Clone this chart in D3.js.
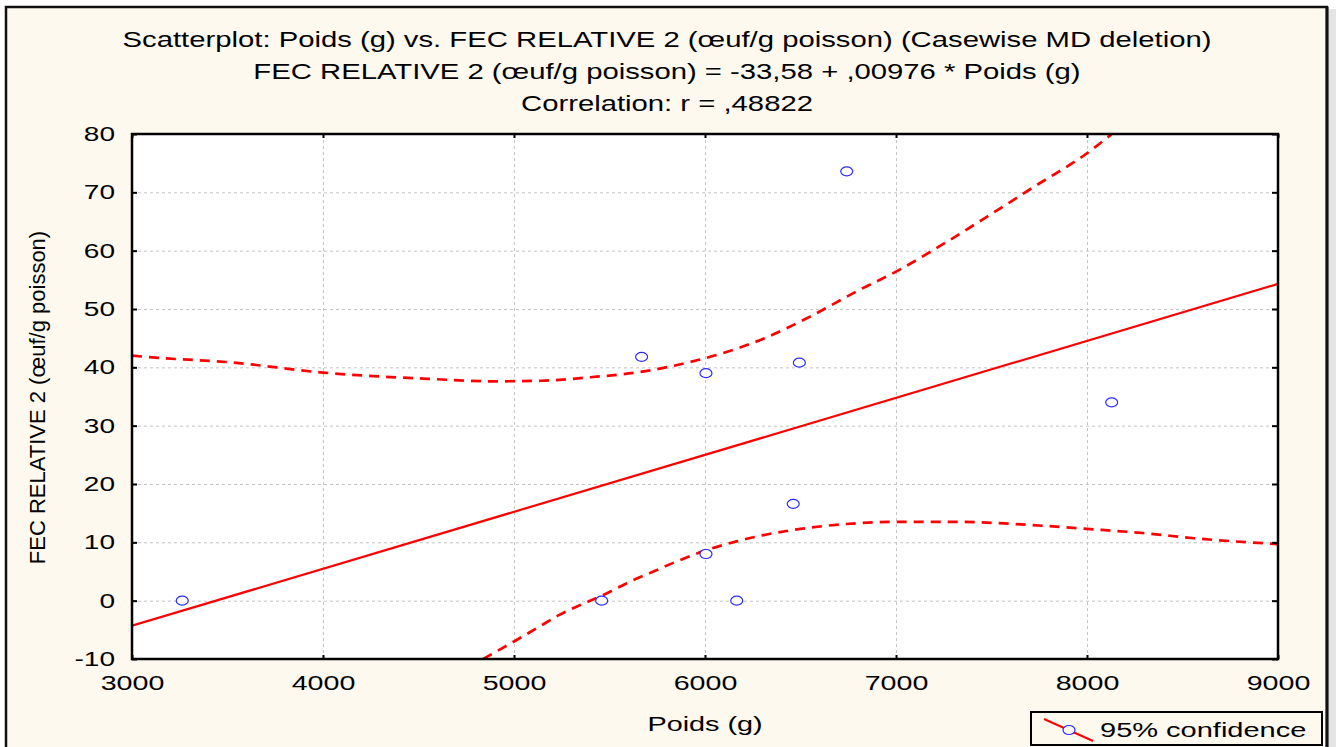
<!DOCTYPE html>
<html>
<head>
<meta charset="utf-8">
<script src="https://cdn.jsdelivr.net/npm/d3@7"></script>
<style>
  body { margin: 0; background: #ffffff; }
  svg text { font-family: "Liberation Sans", Arial, sans-serif; fill: #000; }
</style>
</head>
<body>
<svg id="chart" width="1336" height="747"></svg>
<script>
// scatter points
const poids = [3263, 5459, 5668, 6005, 6005, 6166, 6462, 6494, 6742, 8129]
const fec   = [0, 0, 41.8, 39.0, 8.0, 0, 16.6, 40.8, 73.6, 34.0]

// fitted line, end points
const fitLine = [[3000, -4.3], [9000, 54.3]]

// 95% confidence band, upper and lower curves
const upperBand = [[3000, 42.0], [3150, 41.6], [3500, 40.9], [4000, 39.1], [4570, 38.0], [4880, 37.6],
  [5140, 37.7], [5400, 38.3], [5660, 39.2], [5920, 40.9], [6100, 42.5], [6290, 44.7], [6550, 48.7],
  [6810, 53.3], [7000, 56.4], [7250, 61.2], [7490, 66.1], [7720, 70.9], [8000, 76.7], [8130, 80.0]]
const lowerBand = [[4838, -10], [5000, -7.0], [5120, -4.7], [5240, -2.4], [5350, -0.7], [5470, 1.0],
  [5590, 3.0], [5730, 5.0], [5850, 6.7], [6010, 8.7], [6170, 10.2], [6300, 11.2], [6500, 12.3],
  [6720, 13.1], [7000, 13.5], [7330, 13.5], [7690, 13.0], [8000, 12.3], [8290, 11.6], [8560, 10.7],
  [9000, 9.7]]

const xTicks = [3000, 4000, 5000, 6000, 7000, 8000, 9000]
const yTicks = [-10, 0, 10, 20, 30, 40, 50, 60, 70, 80]

const titleLines = [
  "Scatterplot: Poids (g) vs. FEC RELATIVE 2 (œuf/g poisson) (Casewise MD deletion)",
  "FEC RELATIVE 2 (œuf/g poisson) = -33,58 + ,00976 * Poids (g)",
  "Correlation: r = ,48822"
]
const xTitle = "Poids (g)"
const yTitle = "FEC RELATIVE 2 (œuf/g poisson)"
const legendLabel = "95% confidence"

const cream = "#fdf9ef"
const red = "#ff0000"
const blue = "#2b2bff"

// the original picture is stretched sideways, so horizontal text is widened
function widen(sel, k) {
  sel.each(function () {
    const w = this.getComputedTextLength()
    d3.select(this)
      .attr("textLength", w * k)
      .attr("lengthAdjust", "spacingAndGlyphs")
  })
}

const svg = d3.select("#chart")
const m = { top: 134, right: 58, bottom: 88, left: 132 }
const width = +svg.attr("width")
const height = +svg.attr("height")

// outer frame
svg.append("rect")
  .attr("x", 6).attr("y", 7)
  .attr("width", 1321).attr("height", 780)
  .attr("fill", cream)
  .attr("stroke", "#111").attr("stroke-width", 2.5)
svg.append("line")
  .attr("x1", 1327).attr("x2", 1327).attr("y1", 7).attr("y2", height)
  .attr("stroke", "#111").attr("stroke-width", 3)
svg.append("rect")
  .attr("x", 1329).attr("y", 9).attr("width", 7).attr("height", height)
  .attr("fill", "#e4e4e4")

const x = d3.scaleLinear()
  .domain([3000, 9000])
  .range([m.left, width - m.right])
const y = d3.scaleLinear()
  .domain([-10, 80])
  .range([height - m.bottom, m.top])

const pw = x.range()[1] - x.range()[0]
const ph = y.range()[0] - y.range()[1]

svg.append("rect")
  .attr("x", m.left).attr("y", m.top)
  .attr("width", pw).attr("height", ph)
  .attr("fill", "#fff")

// dashed grid
svg.append("g")
  .attr("transform", `translate(0,${height - m.bottom})`)
  .call(d3.axisBottom(x).tickValues(xTicks.slice(1, -1)).tickSize(-ph).tickFormat(""))
  .call(g => g.select(".domain").remove())
  .call(g => g.selectAll(".tick line")
    .attr("stroke", "#c4c4c4")
    .attr("stroke-dasharray", "3,3"))
svg.append("g")
  .attr("transform", `translate(${m.left},0)`)
  .call(d3.axisLeft(y).tickValues(yTicks.slice(1, -1)).tickSize(-pw).tickFormat(""))
  .call(g => g.select(".domain").remove())
  .call(g => g.selectAll(".tick line")
    .attr("stroke", "#c4c4c4")
    .attr("stroke-dasharray", "3,3"))

svg.append("clipPath").attr("id", "plot-clip")
  .append("rect")
  .attr("x", m.left).attr("y", m.top)
  .attr("width", pw).attr("height", ph)

const plot = svg.append("g").attr("clip-path", "url(#plot-clip)")

const lineGen = d3.line()
  .x(d => x(d[0]))
  .y(d => y(d[1]))
  .curve(d3.curveMonotoneX)

plot.append("path")
  .datum(fitLine)
  .attr("fill", "none")
  .attr("stroke", red)
  .attr("stroke-width", 2.2)
  .attr("d", lineGen)

plot.selectAll(".band")
  .data([upperBand, lowerBand])
  .enter().append("path")
    .attr("class", "band")
    .attr("fill", "none")
    .attr("stroke", red)
    .attr("stroke-width", 2.7)
    .attr("stroke-dasharray", "10,7")
    .attr("d", lineGen)

plot.selectAll(".pt")
  .data(poids.map((p, i) => [p, fec[i]]))
  .enter().append("ellipse")
    .attr("class", "pt")
    .attr("cx", d => x(d[0]))
    .attr("cy", d => y(d[1]))
    .attr("rx", 6).attr("ry", 4.5)
    .attr("fill", "#fff")
    .attr("stroke", blue)
    .attr("stroke-width", 1.2)

// axes: ticks point inwards on all four sides
const tickFont = 20
const plain = d => String(d)   // keep the plain hyphen in "-10"
const bottomAxis = svg.append("g")
  .attr("transform", `translate(0,${height - m.bottom})`)
  .call(d3.axisBottom(x).tickValues(xTicks).tickSize(-4).tickSizeOuter(0).tickPadding(17).tickFormat(plain))
bottomAxis.selectAll("text").attr("font-size", tickFont).attr("fill", "#000")
widen(bottomAxis.selectAll("text"), 1.43)

const leftAxis = svg.append("g")
  .attr("transform", `translate(${m.left},0)`)
  .call(d3.axisLeft(y).tickValues(yTicks).tickSize(-5).tickSizeOuter(0).tickPadding(17).tickFormat(plain))
leftAxis.selectAll("text").attr("font-size", tickFont).attr("fill", "#000")
widen(leftAxis.selectAll("text"), 1.4)

svg.append("g")
  .attr("transform", `translate(0,${m.top})`)
  .call(d3.axisTop(x).tickValues(xTicks).tickSize(-4).tickSizeOuter(0).tickFormat(""))
svg.append("g")
  .attr("transform", `translate(${width - m.right},0)`)
  .call(d3.axisRight(y).tickValues(yTicks).tickSize(-6).tickSizeOuter(0).tickFormat(""))

svg.selectAll(".domain").remove()
svg.selectAll(".tick line").filter(function () { return !d3.select(this).attr("stroke-dasharray") })
  .attr("stroke", "#000").attr("stroke-width", 2)

// plot frame
svg.append("rect")
  .attr("x", m.left).attr("y", m.top)
  .attr("width", pw).attr("height", ph)
  .attr("fill", "none")
  .attr("stroke", "#000")
  .attr("stroke-width", 2.5)

// titles
const titles = svg.selectAll(".title")
  .data(titleLines)
  .enter().append("text")
    .attr("class", "title")
    .attr("x", 667)
    .attr("y", (d, i) => 47 + i * 32)
    .attr("text-anchor", "middle")
    .attr("font-size", 22)
    .text(d => d)
widen(titles, 1.33)

const xLab = svg.append("text")
  .attr("x", (m.left + width - m.right) / 2)
  .attr("y", 731)
  .attr("text-anchor", "middle")
  .attr("font-size", 21)
  .text(xTitle)
widen(xLab, 1.37)

svg.append("text")
  .attr("transform", `translate(45,${(m.top + height - m.bottom) / 2 + 1}) rotate(-90)`)
  .attr("text-anchor", "middle")
  .attr("font-size", 22)
  .text(yTitle)

// legend
const lg = svg.append("g")
lg.append("rect")
  .attr("x", 1031).attr("y", 712)
  .attr("width", 291).attr("height", 33)
  .attr("fill", cream)
  .attr("stroke", "#000").attr("stroke-width", 2)
lg.append("line")
  .attr("x1", 1044).attr("y1", 719)
  .attr("x2", 1093).attr("y2", 741)
  .attr("stroke", red).attr("stroke-width", 2)
lg.append("ellipse")
  .attr("cx", 1069).attr("cy", 730)
  .attr("rx", 6).attr("ry", 4.5)
  .attr("fill", cream)
  .attr("stroke", blue).attr("stroke-width", 1.2)
const lgText = lg.append("text")
  .attr("x", 1100).attr("y", 737)
  .attr("font-size", 20)
  .text(legendLabel)
widen(lgText, 1.45)
</script>
</body>
</html>
